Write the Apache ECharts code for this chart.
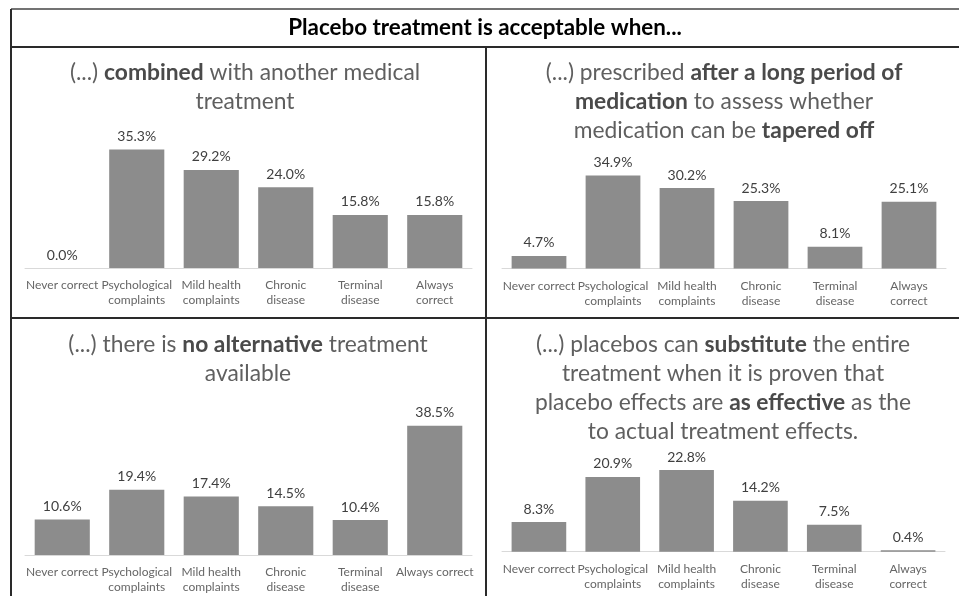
<!DOCTYPE html>
<html>
<head>
<meta charset="utf-8">
<script src="https://cdn.jsdelivr.net/npm/echarts@6/dist/echarts.min.js"></script>
<style>
html,body{margin:0;padding:0;background:#fff;}
#chart{width:959px;height:596px;}
</style>
</head>
<body>
<div id="chart"></div>
<script>
// ---- Data ----
var mainTitle = 'Placebo treatment is acceptable when...';
var categoriesWrapped = ['Never correct', 'Psychological\ncomplaints', 'Mild health\ncomplaints', 'Chronic\ndisease', 'Terminal\ndisease', 'Always\ncorrect'];
var categoriesWrappedBL = ['Never correct', 'Psychological\ncomplaints', 'Mild health\ncomplaints', 'Chronic\ndisease', 'Terminal\ndisease', 'Always correct'];
var combinedValues = [0.0, 35.3, 29.2, 24.0, 15.8, 15.8];
var afterLongValues = [4.7, 34.9, 30.2, 25.3, 8.1, 25.1];
var noAlternativeValues = [10.6, 19.4, 17.4, 14.5, 10.4, 38.5];
var substituteValues = [8.3, 20.9, 22.8, 14.2, 7.5, 0.4];
var panelTitles = [
  '{n|(...) }{b|combined}{n| with another medical}\n{n|treatment}',
  '{n|(...) prescribed }{b|after a long period of}\n{b|medication}{n| to assess whether}\n{n|medication can be }{b|tapered off}',
  '{n|(...) there is }{b|no alternative}{n| treatment}\n{n|available}',
  '{n|(...) placebos can }{b|substitute}{n| the entire}\n{n|treatment when it is proven that}\n{n|placebo effects are }{b|as effective}{n| as the}\n{n|to actual treatment effects.}'
];

var FONT = 'Lato, "Open Sans", sans-serif';
var BAR = '#8c8c8c';
var chart = echarts.init(document.getElementById('chart'));

var panels = [
  {left: 25, width: 447, top: 133.6, height: 134.4, max: 40, cats: categoriesWrapped, vals: combinedValues, tx: 245, ty: 58},
  {left: 502, width: 444, top: 162, height: 106.4, max: 40, cats: categoriesWrapped, vals: afterLongValues, tx: 724, ty: 58},
  {left: 25, width: 447, top: 420.6, height: 134.4, max: 40, cats: categoriesWrappedBL, vals: noAlternativeValues, tx: 248, ty: 330},
  {left: 502, width: 443, top: 462.2, height: 89.5, max: 25, cats: categoriesWrapped, vals: substituteValues, tx: 723, ty: 330}
];

var SUBSIZE = 22.8;
var richStyles = {
  n: {fontFamily: FONT, fontSize: SUBSIZE, fontWeight: 'normal', color: '#5f5f5f', lineHeight: 29, align: 'center'},
  b: {fontFamily: FONT, fontSize: SUBSIZE, fontWeight: 'bold', color: '#4a4a4a', lineHeight: 29, align: 'center'}
};

var titles = [{
  text: mainTitle, left: 485, top: 15, textAlign: 'center', padding: 0,
  textStyle: {fontFamily: FONT, fontSize: 22.4, fontWeight: 'bold', color: '#000', lineHeight: 26}
}];
var grids = [], xAxes = [], yAxes = [], series = [];
panels.forEach(function (p, i) {
  titles.push({
    text: panelTitles[i], left: p.tx, top: p.ty, textAlign: 'center', padding: 0,
    textStyle: {fontFamily: FONT, fontSize: SUBSIZE, fontWeight: 'normal', color: '#5f5f5f', lineHeight: 29, rich: richStyles}
  });
  grids.push({left: p.left, width: p.width, top: p.top, height: p.height, containLabel: false});
  xAxes.push({
    type: 'category', gridIndex: i, data: p.cats,
    axisLine: {lineStyle: {color: '#d9d9d9', width: 1}},
    axisTick: {show: false},
    axisLabel: {interval: 0, fontFamily: FONT, fontSize: 12, color: '#666666', lineHeight: 15, margin: 10}
  });
  yAxes.push({type: 'value', gridIndex: i, min: 0, max: p.max, show: false, splitLine: {show: false}});
  series.push({
    type: 'bar', xAxisIndex: i, yAxisIndex: i, data: p.vals, barWidth: '74%',
    itemStyle: {color: BAR},
    label: {show: true, position: 'top', distance: 6, fontFamily: FONT, fontSize: 14, color: '#404040',
      formatter: function (d) { return d.value.toFixed(1) + '%'; }},
    silent: true, animation: false
  });
});

var lineStyle = {stroke: '#2a2a2a', lineWidth: 2};
var graphics = [
  {type: 'line', shape: {x1: 11, y1: 9, x2: 959, y2: 9}, style: {stroke: '#444', lineWidth: 1.5}},
  {type: 'line', shape: {x1: 11, y1: 47, x2: 959, y2: 47}, style: lineStyle},
  {type: 'line', shape: {x1: 11, y1: 9, x2: 11, y2: 596}, style: lineStyle},
  {type: 'line', shape: {x1: 486, y1: 47, x2: 486, y2: 596}, style: lineStyle},
  {type: 'line', shape: {x1: 11, y1: 318, x2: 959, y2: 318}, style: lineStyle}
];

chart.setOption({
  animation: false,
  backgroundColor: '#fff',
  title: titles,
  grid: grids,
  xAxis: xAxes,
  yAxis: yAxes,
  series: series,
  graphic: graphics
});
</script>
</body>
</html>
